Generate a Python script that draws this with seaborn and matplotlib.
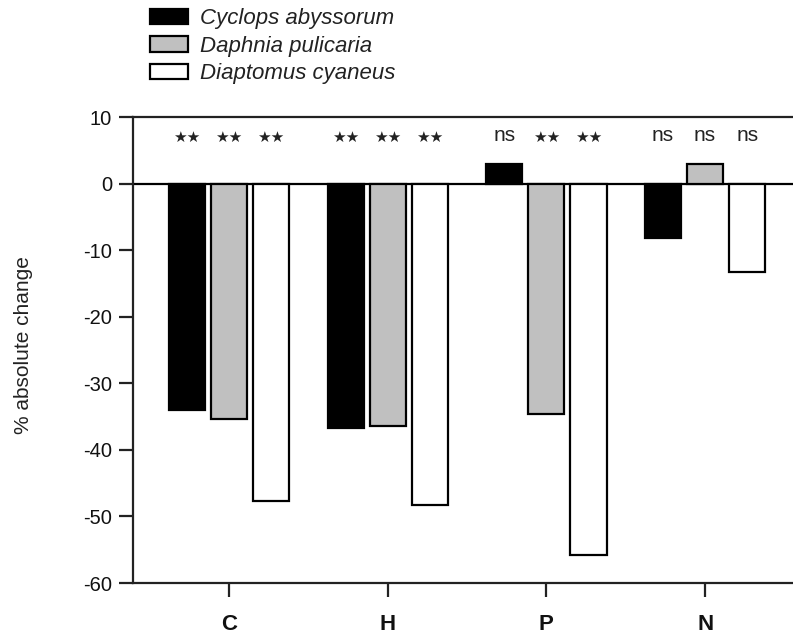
import matplotlib
matplotlib.use("Agg")
import matplotlib.pyplot as plt
import seaborn as sns
import pandas as pd
import numpy as np
from matplotlib.patches import Patch

categories = ["C", "H", "P", "N"]
species = ["Cyclops abyssorum", "Daphnia pulicaria", "Diaptomus cyaneus"]
cyclops = [-34.0, -36.7, 3.0, -8.2]
daphnia = [-35.3, -36.4, -34.6, 3.0]
diaptomus = [-47.7, -48.3, -55.8, -13.3]
sig_cyclops = ["**", "**", "ns", "ns"]
sig_daphnia = ["**", "**", "**", "ns"]
sig_diaptomus = ["**", "**", "**", "ns"]
colors = ["#000000", "#C0C0C0", "#FFFFFF"]

rows = []
for sp, vals in zip(species, [cyclops, daphnia, diaptomus]):
    for c, v in zip(categories, vals):
        rows.append({"cat": c, "species": sp, "value": v})
df = pd.DataFrame(rows)

sns.set_style("white")
plt.rcParams['font.family'] = ['Liberation Sans', 'DejaVu Sans']
plt.rcParams['axes.unicode_minus'] = False

fig = plt.figure(figsize=(7.93, 6.38), dpi=100)
ax = fig.add_axes([0.1677, 0.0862, 0.8323, 0.7304])

sns.barplot(data=df, x="cat", y="value", hue="species", order=categories,
            hue_order=species, palette=colors, edgecolor="black", linewidth=1.6,
            width=0.795, gap=0.14, ax=ax, legend=False)

ax.axhline(0, color="black", lw=1.6, zorder=0.5)

sigs = [sig_cyclops, sig_daphnia, sig_diaptomus]
for cont, sg in zip(ax.containers, sigs):
    for bar, s in zip(cont, sg):
        xc = bar.get_x() + bar.get_width() / 2
        if s == "**":
            ax.text(xc, 6.9, "\u2605\u2605", ha="center", va="center",
                    fontsize=11, family="DejaVu Sans", color="#222222")
        else:
            ax.text(xc, 7.2, s, ha="center", va="center", fontsize=15,
                    color="#222222")

ax.set_ylim(-60, 10)
ax.set_yticks(np.arange(-60, 11, 10))
ax.set_xlim(-0.605, 3.554)
ax.set_xticks(range(len(categories)))
ax.set_xticklabels(categories, fontweight="bold", fontsize=16)
ax.tick_params(axis="y", labelsize=14.5, length=10, width=1.6, direction="out",
               left=True, pad=5, colors="#222222")
ax.tick_params(axis="x", length=10, width=1.6, direction="out", bottom=True,
               pad=12, colors="#222222")
for lab in ax.get_yticklabels() + ax.get_xticklabels():
    lab.set_color("#111111")
ax.set_xlabel("")
ax.set_ylabel("% absolute change", fontsize=15, color="#222222")
ax.yaxis.set_label_coords((33 - 133) / 660, 0.51)

for side in ["left", "bottom", "top"]:
    ax.spines[side].set_visible(True)
    ax.spines[side].set_color("#222222")
    ax.spines[side].set_linewidth(1.6)
ax.spines["right"].set_visible(False)

handles = [Patch(facecolor=c, edgecolor="black", linewidth=1.6) for c in colors]
leg = fig.legend(handles, species, loc="upper left",
                 bbox_to_anchor=(150 / 793, 1 - 8 / 638), frameon=False,
                 prop={"style": "italic", "size": 16}, handlelength=1.7,
                 handleheight=0.68, labelspacing=0.3, handletextpad=0.55,
                 borderaxespad=0, borderpad=0)
for t in leg.get_texts():
    t.set_color("#222222")

fig.savefig("out.png", dpi=100)
